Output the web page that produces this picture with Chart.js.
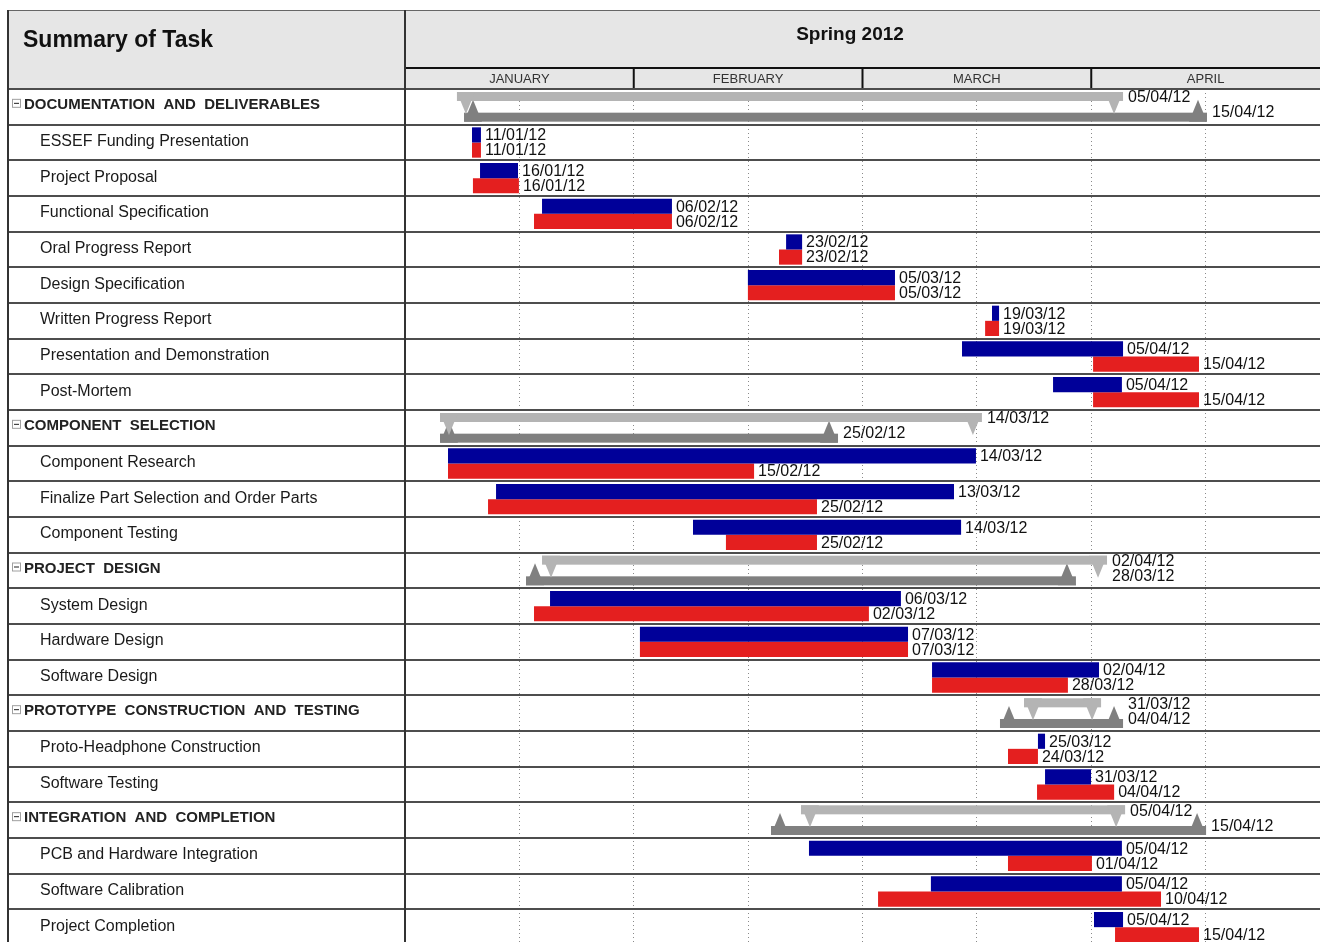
<!DOCTYPE html>
<html>
<head>
<meta charset="utf-8">
<title>Summary of Task</title>
<script src="https://cdn.jsdelivr.net/npm/chart.js@4.4.0/dist/chart.umd.min.js"></script>
<style>
  html, body { margin: 0; padding: 0; background: #fff; overflow: hidden; }
  #wrap { position: relative; width: 1320px; height: 945px; }
</style>
</head>
<body>
<div id="wrap"><canvas id="gantt"></canvas></div>
<script>
// --- DATA ---
// x values are months from 1 Jan 2012 (0 = 1 Jan, 1 = 1 Feb, 2 = 1 Mar, 3 = 1 Apr)
const title = 'Summary of Task';
const period = 'Spring 2012';
const months = ['JANUARY', 'FEBRUARY', 'MARCH', 'APRIL'];

const tasks = [
    'DOCUMENTATION  AND  DELIVERABLES',
    'ESSEF Funding Presentation',
    'Project Proposal',
    'Functional Specification',
    'Oral Progress Report',
    'Design Specification',
    'Written Progress Report',
    'Presentation and Demonstration',
    'Post-Mortem',
    'COMPONENT  SELECTION',
    'Component Research',
    'Finalize Part Selection and Order Parts',
    'Component Testing',
    'PROJECT  DESIGN',
    'System Design',
    'Hardware Design',
    'Software Design',
    'PROTOTYPE  CONSTRUCTION  AND  TESTING',
    'Proto-Headphone Construction',
    'Software Testing',
    'INTEGRATION  AND  COMPLETION',
    'PCB and Hardware Integration',
    'Software Calibration',
    'Project Completion'
];
const isSummary = [1,0,0,0,0,0,0,0,0, 1,0,0,0, 1,0,0,0, 1,0,0, 1,0,0,0];

// planned (blue / light grey summary)
const planStart = [0.227, 0.293, 0.328, 0.599, 1.666, 1.499, 2.566, 2.435, 2.833,
                   0.153, 0.188, 0.398, 1.259,
                   0.599, 0.634, 1.027, 2.304,
                   2.706, 2.767, 2.798,
                   1.731, 1.766, 2.299, 3.012];
const planEnd   = [3.139, 0.332, 0.494, 1.167, 1.736, 2.142, 2.597, 3.139, 3.134,
                   2.522, 2.496, 2.400, 2.431,
                   3.069, 2.168, 2.199, 3.034,
                   3.043, 2.798, 2.999,
                   3.148, 3.134, 3.134, 3.139];
// actual (red / dark grey summary)
const actualStart = [0.258, 0.293, 0.297, 0.564, 1.635, 1.499, 2.536, 3.008, 3.008,
                     0.153, 0.188, 0.363, 1.403,
                     0.529, 0.564, 1.027, 2.304,
                     2.601, 2.636, 2.763,
                     1.600, 2.636, 2.068, 3.104];
const actualEnd   = [3.506, 0.332, 0.498, 1.167, 1.736, 2.142, 2.597, 3.471, 3.471,
                     1.893, 1.526, 1.801, 1.801,
                     2.933, 2.028, 2.199, 2.898,
                     3.139, 2.767, 3.100,
                     3.502, 3.003, 3.305, 3.471];

const planLabels = ['05/04/12', '11/01/12', '16/01/12', '06/02/12', '23/02/12', '05/03/12', '19/03/12', '05/04/12', '05/04/12',
                    '14/03/12', '14/03/12', '13/03/12', '14/03/12',
                    '02/04/12', '06/03/12', '07/03/12', '02/04/12',
                    '31/03/12', '25/03/12', '31/03/12',
                    '05/04/12', '05/04/12', '05/04/12', '05/04/12'];
const actualLabels = ['15/04/12', '11/01/12', '16/01/12', '06/02/12', '23/02/12', '05/03/12', '19/03/12', '15/04/12', '15/04/12',
                      '25/02/12', '15/02/12', '25/02/12', '25/02/12',
                      '28/03/12', '02/03/12', '07/03/12', '28/03/12',
                      '04/04/12', '24/03/12', '04/04/12',
                      '15/04/12', '01/04/12', '10/04/12', '15/04/12'];

// --- STYLE ---
const BLUE = '#000099';
const RED = '#e41f1f';
const LIGHT_GREY = '#b4b4b4';
const DARK_GREY = '#808080';
const HEADER_BG = '#e6e6e6';
const FONT = '"Liberation Sans", Arial, sans-serif';

function barData(starts, ends) {
    return tasks.map((t, i) => isSummary[i] ? null : [starts[i], ends[i]]);
}

// grey summary bar with arrow heads at both ends; dir = 1 hangs down, -1 points up
function drawBracket(ctx, x0, x1, edge, dir, color) {
    const thick = 9, tri = 22, w = 18;
    const tip = edge + dir * tri;
    ctx.fillStyle = color;
    ctx.fillRect(x0, dir > 0 ? edge : edge - thick, x1 - x0, thick);
    [[x0, x0 + w], [x1 - w, x1]].forEach(([a, b]) => {
        ctx.beginPath();
        ctx.moveTo(a, edge);
        ctx.lineTo(b, edge);
        ctx.lineTo((a + b) / 2, tip);
        ctx.closePath();
        ctx.fill();
    });
}

const ganttPlugin = {
    id: 'gantt',
    beforeDatasetsDraw(chart) {
        const { ctx, scales: { x, y } } = chart;
        const rowH = y.getPixelForValue(1) - y.getPixelForValue(0);
        ctx.save();
        tasks.forEach((t, i) => {
            if (!isSummary[i]) return;
            const top = y.getPixelForValue(i) - rowH / 2;
            drawBracket(ctx, x.getPixelForValue(actualStart[i]), x.getPixelForValue(actualEnd[i]), top + rowH - 3, -1, DARK_GREY);
            drawBracket(ctx, x.getPixelForValue(planStart[i]), x.getPixelForValue(planEnd[i]), top + 3, 1, LIGHT_GREY);
        });
        ctx.restore();
    },
    afterDraw(chart) {
        const { ctx, scales: { x, y } } = chart;
        const rowH = y.getPixelForValue(1) - y.getPixelForValue(0);
        const right = chart.width;
        const colLeft = 8, colRight = chart.chartArea.left;
        ctx.save();

        // date labels
        ctx.font = '16px ' + FONT;
        ctx.fillStyle = '#111';
        ctx.textAlign = 'left';
        ctx.textBaseline = 'middle';
        const planMeta = chart.getDatasetMeta(0), actualMeta = chart.getDatasetMeta(1);
        tasks.forEach((t, i) => {
            const top = y.getPixelForValue(i) - rowH / 2;
            const pe = x.getPixelForValue(planEnd[i]);
            const ae = x.getPixelForValue(actualEnd[i]);
            if (isSummary[i]) {
                let px = pe, ax = ae;
                if (ae > pe && ae - pe < 40) px = ae;
                if (pe > ae && pe - ae < 40) ax = pe;
                ctx.fillText(planLabels[i], px + 5, top + 9);
                ctx.fillText(actualLabels[i], ax + 5, top + 24);
            } else {
                ctx.fillText(planLabels[i], pe + 4, planMeta.data[i].y + 1);
                ctx.fillText(actualLabels[i], ae + 4, actualMeta.data[i].y + 1);
            }
        });

        // header block
        ctx.fillStyle = HEADER_BG;
        ctx.fillRect(colLeft, 10, right - colLeft, chart.chartArea.top - 10);
        ctx.strokeStyle = '#666';
        ctx.lineWidth = 1;
        ctx.beginPath();
        ctx.moveTo(colLeft, 10.5); ctx.lineTo(right, 10.5);
        ctx.stroke();

        ctx.fillStyle = '#111';
        ctx.font = 'bold 23px ' + FONT;
        ctx.fillText(title, 23, 41);
        ctx.textAlign = 'center';
        ctx.font = 'bold 19px ' + FONT;
        ctx.fillText(period, 850, 35);

        // month row
        ctx.strokeStyle = '#111';
        ctx.lineWidth = 2;
        ctx.beginPath();
        ctx.moveTo(colRight, 68); ctx.lineTo(right, 68);
        ctx.stroke();
        ctx.font = '13px ' + FONT;
        ctx.fillStyle = '#333';
        months.forEach((m, k) => {
            const a = x.getPixelForValue(k), b = x.getPixelForValue(k + 1);
            ctx.fillText(m, (a + b) / 2, 79);
            if (k > 0) {
                ctx.beginPath();
                ctx.moveTo(a, 68); ctx.lineTo(a, chart.chartArea.top);
                ctx.stroke();
            }
        });

        // row separators
        ctx.strokeStyle = '#4d4d4d';
        ctx.lineWidth = 2;
        for (let i = 0; i <= tasks.length; i++) {
            const ly = Math.round(y.getPixelForValue(0) - rowH / 2 + i * rowH);
            ctx.beginPath();
            ctx.moveTo(colLeft, ly); ctx.lineTo(right, ly);
            ctx.stroke();
        }
        // column borders
        ctx.strokeStyle = '#333';
        [colLeft, colRight].forEach(cx => {
            ctx.beginPath();
            ctx.moveTo(cx, 10); ctx.lineTo(cx, chart.height);
            ctx.stroke();
        });

        // task names
        ctx.textAlign = 'left';
        tasks.forEach((t, i) => {
            const cy = y.getPixelForValue(i);
            if (isSummary[i]) {
                ctx.fillStyle = '#fff';
                ctx.fillRect(12, cy - 8, 9, 9);
                ctx.strokeStyle = '#a0a0a0';
                ctx.lineWidth = 1;
                ctx.strokeRect(12.5, cy - 7.5, 8, 8);
                ctx.fillStyle = '#222';
                ctx.fillRect(14, cy - 4, 5, 1);
                ctx.font = 'bold 15px ' + FONT;
                ctx.fillText(t, 24, cy - 2);
            } else {
                ctx.fillStyle = '#1a1a1a';
                ctx.font = '16px ' + FONT;
                ctx.fillText(t, 40, cy - 1);
            }
        });
        ctx.restore();
    }
};

new Chart(document.getElementById('gantt'), {
    type: 'bar',
    data: {
        labels: tasks,
        datasets: [
            { label: 'Planned', data: barData(planStart, planEnd), backgroundColor: BLUE,
              borderWidth: 0, categoryPercentage: 0.85, barPercentage: 1 },
            { label: 'Actual', data: barData(actualStart, actualEnd), backgroundColor: RED,
              borderWidth: 0, categoryPercentage: 0.85, barPercentage: 1 }
        ]
    },
    options: {
        indexAxis: 'y',
        responsive: true,
        maintainAspectRatio: false,
        animation: false,
        layout: { padding: { left: 405, top: 89, right: 0, bottom: 0 } },
        scales: {
            x: {
                type: 'linear', position: 'top', min: 0, max: 4,
                ticks: { display: false, stepSize: 0.5 },
                grid: { color: '#8a8a8a', lineWidth: 1, drawTicks: false },
                border: { display: false, dash: [1, 3] }
            },
            y: { type: 'category', display: false, grid: { display: false } }
        },
        plugins: { legend: { display: false }, tooltip: { enabled: false } }
    },
    plugins: [ganttPlugin]
});
</script>
</body>
</html>
